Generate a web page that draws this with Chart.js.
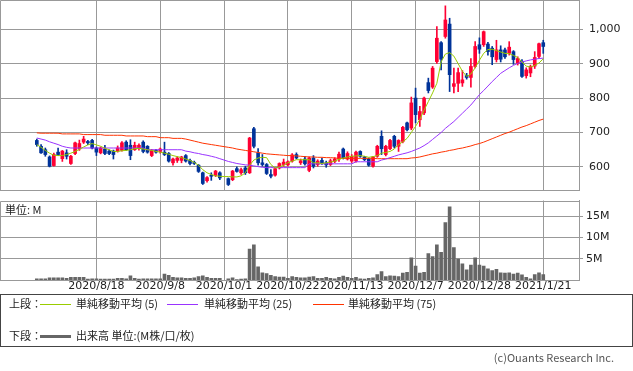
<!DOCTYPE html>
<html lang="ja">
<head>
<meta charset="utf-8">
<title>株価チャート</title>
<script src="https://cdn.jsdelivr.net/npm/chart.js@4.4.1/dist/chart.umd.min.js"></script>
<style>
    body { margin: 0; width: 633px; height: 371px; background: #fff; position: relative; overflow: hidden; }
    canvas { position: absolute; left: 0; }
    #priceChart { top: 0; }
    #volumeChart { top: 195px; }
    .txt { position: absolute; font: 11px "Noto Sans CJK JP", sans-serif; color: #222; white-space: nowrap; line-height: 13px; }
    #legend { position: absolute; left: 0; top: 294px; width: 631px; height: 51px; border: 1px solid #444; }
    .swatch { position: absolute; left: 39px; width: 31px; height: 1px; }
</style>
</head>
<body>
<canvas id="priceChart" width="633" height="192"></canvas>
<canvas id="volumeChart" width="633" height="105"></canvas>
<div class="txt" style="left:5px; top:203px;">単位: M</div>
<div id="legend">
    <div class="txt" style="left:8px; top:2px;">上段：</div>
    <div class="swatch" style="top:9px; background:#99cc00;"></div>
    <div class="txt" style="left:75px; top:2px;">単純移動平均 (5)</div>
    <div class="swatch" style="left:166px; top:9px; background:#9933ff;"></div>
    <div class="txt" style="left:203px; top:2px;">単純移動平均 (25)</div>
    <div class="swatch" style="left:312px; top:9px; background:#ff3300;"></div>
    <div class="txt" style="left:347px; top:2px;">単純移動平均 (75)</div>
    <div class="txt" style="left:8px; top:34px;">下段：</div>
    <div class="swatch" style="top:40px; height:3px; background:#666;"></div>
    <div class="txt" style="left:75px; top:34px;">出来高 単位:(M株/口/枚)</div>
</div>
<div class="txt" style="right:19px; top:351px; color:#555;">(c)Ouants Research Inc.</div>

<script>
// 日足 (2020/7/28 ~ 2021/1/21), 10/1 は売買停止
const opens = [677, 660, 650, 629, 604, 643, 624, 641, 610, 639, 652, 672, 674, 677, 655, 641, 652, 646, 646, 646,
    648, 672, 663, 650, 653, 672, 660, 633, 648, 645, 643, 639, 612, 619, 619, 633, 619, 613, 605, 583,
    560, 576, 575, 583, null, 566, 563, 595, 583, 597, 583, 711, 641, 612, 607, 578, 576, 597, 607, 606,
    617, 636, 612, 623, 590, 626, 607, 619, 612, 607, 616, 623, 652, 623, 617, 617, 645, 629, 623, 602,
    631, 689, 636, 653, 689, 660, 674, 728, 713, 800, 737, 757, 845, 832, 906, 961, 979, 1015, 834, 843,
    844, 866, 860, 892, 955, 955, 957, 945, 912, 940, 940, 930, 935, 901, 907, 865, 873, 893, 921, 961];
const highs = [681, 665, 655, 632, 640, 655, 648, 650, 634, 672, 678, 689, 677, 680, 658, 658, 663, 650, 649, 661,
    674, 676, 679, 672, 667, 676, 662, 651, 651, 655, 672, 642, 626, 630, 631, 636, 623, 617, 607, 585,
    572, 583, 590, 586, null, 568, 590, 600, 597, 602, 686, 715, 653, 636, 610, 592, 598, 612, 623, 618,
    639, 641, 623, 631, 629, 633, 621, 626, 617, 623, 627, 643, 655, 644, 636, 646, 647, 631, 626, 631,
    663, 705, 663, 680, 692, 679, 718, 730, 803, 829, 776, 803, 858, 892, 1008, 964, 1068, 1032, 887, 887,
    880, 872, 915, 964, 975, 995, 962, 950, 968, 952, 945, 964, 938, 920, 912, 888, 896, 935, 960, 968];
const lows = [660, 639, 631, 600, 602, 633, 616, 623, 607, 636, 648, 668, 665, 652, 633, 638, 636, 636, 623, 643,
    646, 648, 621, 648, 649, 641, 640, 630, 640, 640, 633, 614, 605, 613, 612, 614, 606, 607, 584, 549,
    556, 561, 572, 563, null, 546, 560, 585, 578, 578, 581, 655, 605, 602, 578, 568, 573, 594, 602, 603,
    614, 623, 607, 605, 586, 597, 602, 607, 599, 604, 612, 616, 623, 620, 613, 614, 628, 618, 602, 599,
    628, 636, 632, 650, 655, 645, 670, 705, 708, 728, 718, 752, 815, 828, 901, 882, 974, 819, 815, 819,
    834, 855, 832, 888, 930, 950, 925, 897, 905, 905, 915, 925, 898, 896, 860, 858, 862, 886, 915, 930];
const closes = [665, 641, 636, 602, 636, 636, 646, 631, 631, 670, 668, 681, 670, 655, 643, 655, 639, 639, 636, 655,
    670, 650, 633, 663, 663, 645, 643, 648, 643, 652, 636, 617, 623, 626, 629, 617, 610, 610, 587, 552,
    569, 573, 588, 568, null, 549, 588, 587, 592, 583, 684, 660, 612, 607, 581, 573, 595, 610, 614, 615,
    635, 626, 618, 609, 626, 602, 617, 610, 606, 618, 623, 637, 626, 639, 631, 643, 631, 621, 605, 629,
    660, 653, 660, 677, 660, 677, 715, 708, 786, 752, 761, 800, 822, 887, 974, 913, 1027, 868, 842, 874,
    853, 860, 892, 950, 942, 993, 935, 920, 940, 913, 920, 948, 912, 915, 863, 882, 892, 918, 958, 950];

const ma5 = [665, 657, 648, 640, 634, 633, 633, 636, 640, 645, 651, 658, 664, 668, 664, 660, 654, 650, 645, 645,
    647, 648, 650, 653, 654, 652, 650, 648, 645, 643, 640, 637, 633, 630, 627, 623, 619, 613, 605, 592,
    583, 578, 574, 573, 572, 572, 571, 571, 574, 583, 605, 620, 626, 628, 627, 607, 597, 600, 605, 612,
    617, 621, 621, 621, 621, 612, 612, 610, 612, 614, 617, 622, 626, 629, 631, 632, 633, 631, 628, 630,
    633, 640, 642, 645, 652, 665, 673, 683, 700, 718, 738, 765, 790, 815, 843, 905, 928, 932, 922, 900,
    878, 863, 870, 888, 910, 930, 941, 942, 938, 934, 930, 929, 924, 918, 905, 893, 890, 895, 902, 914];
const ma25 = [684, 681, 678, 673, 669, 665, 660, 657, 655, 655, 655, 655, 655, 655, 655, 655, 655, 655, 655, 655,
    655, 655, 655, 655, 655, 655, 650, 650, 650, 650, 650, 650, 650, 650, 650, 646, 644, 641, 639, 636,
    634, 631, 628, 624, 620, 616, 613, 610, 608, 606, 605, 603, 601, 599, 598, 598, 598, 598, 598, 598,
    598, 598, 598, 598, 609, 609, 609, 609, 609, 609, 609, 609, 609, 609, 609, 615, 615, 615, 615, 615,
    615, 620, 623, 627, 631, 635, 638, 641, 645, 650, 655, 662, 670, 680, 690, 700, 712, 722, 732, 744,
    756, 768, 780, 795, 810, 822, 835, 848, 860, 872, 880, 888, 895, 901, 905, 908, 911, 913, 915, 916];
const ma75 = [699, 698, 698, 698, 698, 698, 696, 696, 696, 696, 696, 694, 694, 694, 694, 694, 692, 692, 692, 692,
    692, 690, 690, 690, 690, 690, 688, 688, 688, 685, 685, 685, 683, 683, 683, 681, 678, 675, 672, 669,
    667, 665, 663, 661, 659, 657, 655, 652, 650, 648, 646, 644, 642, 640, 638, 637, 636, 635, 634, 633,
    633, 632, 631, 630, 629, 629, 628, 628, 627, 627, 626, 625, 625, 625, 625, 625, 625, 625, 625, 625,
    624, 624, 624, 624, 624, 624, 624, 624, 626, 627, 629, 632, 635, 638, 640, 643, 645, 648, 650, 653,
    655, 658, 661, 665, 668, 672, 677, 682, 687, 692, 697, 701, 706, 711, 716, 720, 725, 730, 735, 739];

// 出来高 (M)
const volumes = [0.3, 0.3, 0.3, 0.5, 0.5, 0.5, 0.5, 0.4, 0.6, 0.6, 0.6, 0.6, 0.2, 0.3, 0.3, 0.2, 0.2, 0.2, 0.2, 0.4,
    0.4, 0.3, 1.0, 0.4, 0.2, 0.3, 0.3, 0.3, 0.3, 0.3, 1.4, 1.1, 0.6, 0.5, 0.5, 0.4, 0.4, 0.5, 0.8, 1.0,
    0.6, 0.4, 0.4, 0.4, null, 0.3, 0.5, 0.1, 0.2, 0.3, 7.3, 8.3, 3.1, 1.7, 1.5, 1.1, 0.8, 0.7, 0.7, 0.4,
    0.8, 0.6, 0.5, 0.5, 0.7, 0.8, 0.4, 0.4, 0.6, 0.4, 0.3, 0.6, 0.9, 0.6, 0.4, 0.6, 0.3, 0.2, 0.4, 0.5,
    1.3, 2.0, 0.8, 1.0, 0.9, 0.8, 1.6, 1.8, 5.2, 3.3, 1.6, 1.8, 6.2, 5.5, 8.3, 6.5, 13.5, 17.2, 7.6, 4.9,
    3.8, 2.4, 3.5, 5.2, 3.5, 3.3, 2.6, 2.2, 2.5, 1.7, 1.6, 1.7, 1.4, 1.6, 1.2, 0.6, 0.3, 1.3, 1.7, 1.3];

const tickDates = ['2020/8/18', '2020/9/8', '2020/10/1', '2020/10/22', '2020/11/13', '2020/12/7', '2020/12/28', '2021/1/21'];
const tickDays = [14, 29, 44, 59, 74, 89, 104, 119];   // 何本目の足か
const priceTicks = [600, 700, 800, 900, 1000];
const volumeTicks = [5, 10, 15];

const GRID = '#999';
const UP = '#ff0033';
const DOWN = '#003399';
const tickFont = { family: 'DejaVu Sans', size: 11 };

const days = opens.map((o, i) => i).filter(i => opens[i] !== null);
const candleColors = days.map(i => closes[i] >= opens[i] ? UP : DOWN);

// 枠の上辺と左辺
const frame = {
    id: 'frame',
    afterDraw(chart) {
        const { ctx, chartArea } = chart;
        ctx.save();
        ctx.strokeStyle = GRID;
        ctx.lineWidth = 1;
        ctx.beginPath();
        ctx.moveTo(Math.round(chartArea.left) + 0.5, Math.round(chartArea.bottom));
        ctx.lineTo(Math.round(chartArea.left) + 0.5, Math.round(chartArea.top) + 0.5);
        ctx.lineTo(Math.round(chartArea.right), Math.round(chartArea.top) + 0.5);
        ctx.stroke();
        ctx.restore();
    }
};

function xScale(showLabels) {
    return {
        type: 'linear',
        min: -8.65,
        max: 127.4,
        offset: false,
        afterBuildTicks: s => { s.ticks = tickDays.map(v => ({ value: v })); },
        ticks: {
            display: showLabels,
            autoSkip: false,
            maxRotation: 0,
            padding: 0,
            color: '#222',
            font: tickFont,
            callback: v => tickDates[tickDays.indexOf(v)]
        },
        grid: { color: GRID, offset: false, drawTicks: false },
        border: { color: GRID },
        afterFit: s => {
            s.height = showLabels ? 20 : 2;
            s.paddingLeft = 0;
            s.paddingRight = 0;
        }
    };
}

function maLine(values, color) {
    return {
        type: 'line',
        data: values.map((v, i) => ({ x: i, y: v })),
        borderColor: color,
        borderWidth: 1,
        pointRadius: 0,
        tension: 0,
        order: 0
    };
}

new Chart(document.getElementById('priceChart'), {
    type: 'bar',
    data: {
        datasets: [
            maLine(ma5, '#99cc00'),
            maLine(ma25, '#9933ff'),
            maLine(ma75, '#ff3300'),
            {
                data: days.map(i => ({ x: i, y: [opens[i], closes[i]] })),
                backgroundColor: candleColors,
                barThickness: 3,
                grouped: false,
                order: 1
            },
            {
                data: days.map(i => ({ x: i, y: [lows[i], highs[i]] })),
                backgroundColor: candleColors,
                barThickness: 1,
                grouped: false,
                order: 2
            }
        ]
    },
    options: {
        responsive: false,
        animation: false,
        layout: { padding: 0 },
        scales: {
            x: xScale(false),
            y: {
                position: 'right',
                min: 533,
                max: 1085,
                afterBuildTicks: s => { s.ticks = priceTicks.map(v => ({ value: v })); },
                ticks: {
                    padding: 6,
                    color: '#222',
                    font: tickFont,
                    callback: v => v.toLocaleString('en-US')
                },
                grid: { color: GRID, tickLength: 4 },
                border: { color: GRID },
                afterFit: s => {
                    s.width = 54;
                    s.paddingTop = 0;
                    s.paddingBottom = 0;
                }
            }
        },
        plugins: {
            legend: { display: false },
            tooltip: { enabled: false }
        }
    },
    plugins: [frame]
});

new Chart(document.getElementById('volumeChart'), {
    type: 'bar',
    data: {
        datasets: [{
            data: days.map(i => ({ x: i, y: volumes[i] })),
            backgroundColor: '#666',
            barThickness: 3,
            grouped: false
        }]
    },
    options: {
        responsive: false,
        animation: false,
        layout: { padding: { top: 5.5 } },
        scales: {
            x: xScale(true),
            y: {
                position: 'right',
                min: 0,
                max: 18.7,
                afterBuildTicks: s => { s.ticks = volumeTicks.map(v => ({ value: v })); },
                ticks: {
                    padding: 3,
                    color: '#222',
                    font: tickFont,
                    callback: v => v + 'M'
                },
                grid: { color: GRID, tickLength: 4 },
                border: { color: GRID },
                afterFit: s => {
                    s.width = 54;
                    s.paddingTop = 0;
                    s.paddingBottom = 0;
                }
            }
        },
        plugins: {
            legend: { display: false },
            tooltip: { enabled: false }
        }
    },
    plugins: [frame]
});
</script>
</body>
</html>
